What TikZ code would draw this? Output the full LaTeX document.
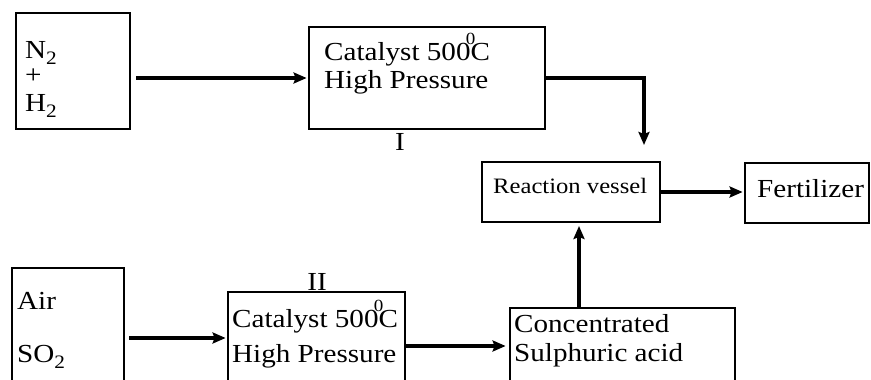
\documentclass[tikz,border=0pt]{standalone}
\usepackage{fontspec}
\setmainfont{Liberation Serif}[FakeStretch=1.12]
\usetikzlibrary{arrows.meta,positioning}
\newcommand\mysub[1]{\raisebox{-0.26em}{\fontsize{19}{19}\selectfont #1}}
\newcommand\mydeg{\makebox[0pt][c]{\raisebox{0.62em}{\fontsize{17}{17}\selectfont 0}}}
\begin{document}
\begin{tikzpicture}[x=1pt,y=-1pt,
  box/.style={draw,line width=2.8pt,rectangle,inner sep=0pt},
  txt/.style={inner sep=0pt,anchor=west,align=left,font=\fontsize{26}{28}\selectfont},
  arr/.style={line width=3.2pt,-{Stealth[length=13pt,width=11pt,inset=2pt]}}]
\useasboundingbox (0,0) rectangle (871,380);
\clip (0,0) rectangle (871,380);
\fill[white] (0,0) rectangle (871,380);
% boxes
\node[box,minimum width=114pt,minimum height=116pt] (A) at (73,71) {};
\node[box,minimum width=236pt,minimum height=102pt] (I) at (427,78) {};
\node[box,minimum width=178pt,minimum height=60pt] (R) at (571,192) {};
\node[box,minimum width=124pt,minimum height=60pt] (F) at (807,193) {};
\node[box,minimum width=112pt,minimum height=140pt] (B) at (68,338) {};
\node[box,minimum width=177pt,minimum height=108pt] (II) at (316.5,346) {};
\node[box,minimum width=225pt,minimum height=76pt] (C) at (622.5,346) {};
% texts
\node[txt,anchor=base west] (tN) at (25,58) {N\mysub{2}};
\node[txt,anchor=base west] (tPlus) at (25,83) {+};
\node[txt,anchor=base west] (tH) at (25,111) {H\mysub{2}};
\node[txt] (tI) at (324,63.5) {Catalyst 500\mydeg C\\High Pressure};
\node[txt,font=\fontsize{22}{24}\selectfont] (tR) at (493,186) {Reaction vessel};
\node[txt] (tF) at (757,189) {Fertilizer};
\node[txt,anchor=base west] (tAir) at (17,309.5) {Air};
\node[txt,anchor=base west] (tSO) at (17,362) {SO\mysub{2}};
\node[txt,font=\fontsize{26}{35}\selectfont] (tII) at (232,334.5) {Catalyst 500\mydeg C\\High Pressure};
\node[txt,font=\fontsize{26}{29}\selectfont] (tC) at (514,341) {Concentrated\\Sulphuric acid};
\node[txt,anchor=center] (lI) at (400,142) {I};
\node[txt,anchor=center] (lII) at (317,282) {II};
% connectors
\coordinate (r1) at (644,145);
\coordinate (r2) at (579,226);
\draw[arr] ([xshift=5pt]A.east |- I.west) -- ([xshift=-1pt]I.west);
\draw[arr] (I.east) -| (r1);
\draw[arr] (R.east) -- ([xshift=-1pt]R.east -| F.west);
\draw[arr] ([xshift=4pt]B.east) -- ([xshift=-1pt]B.east -| II.west);
\draw[arr] (II.east) -- ([xshift=-3pt]C.west);
\draw[arr] (C.north -| r2) -- (r2);
\end{tikzpicture}
\end{document}
